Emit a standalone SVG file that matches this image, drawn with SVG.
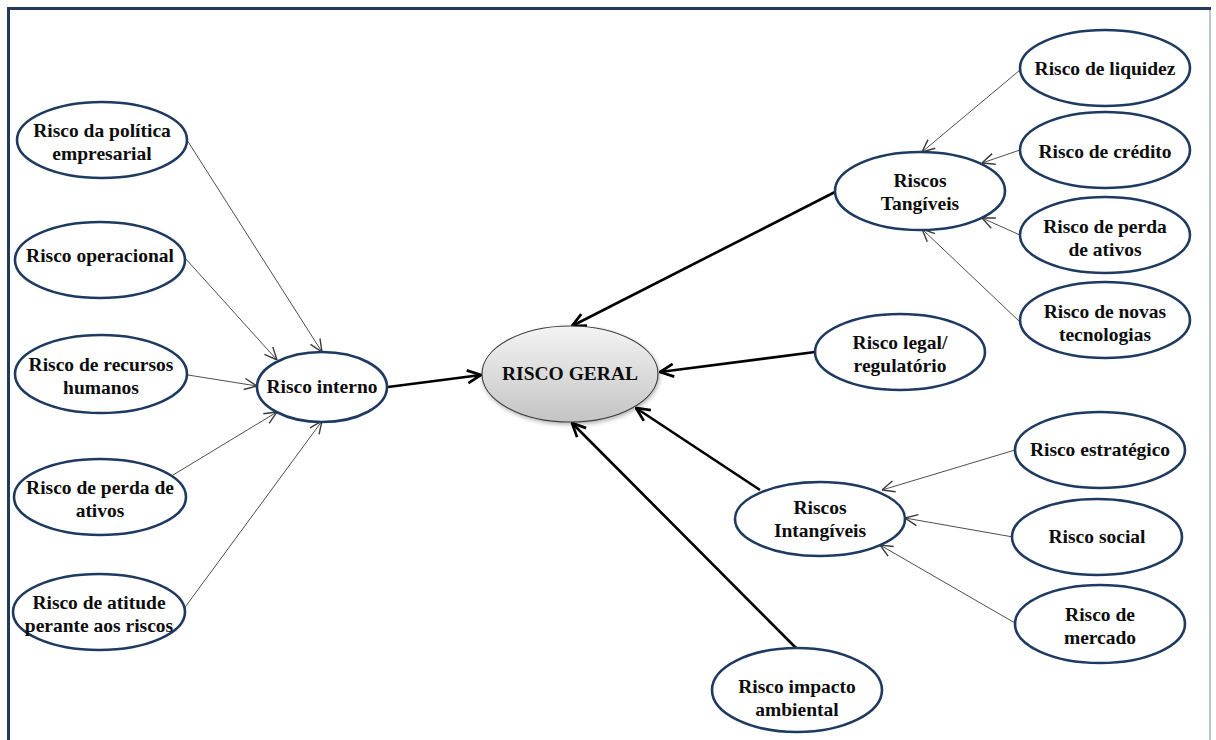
<svg xmlns="http://www.w3.org/2000/svg" width="1216" height="740" viewBox="0 0 1216 740">
  <defs>
    <style>
      .node { fill: #ffffff; stroke: #1f3a60; stroke-width: 2.6; }
      .lbl { font-family: 'Liberation Serif', 'Times New Roman', 'DejaVu Serif', serif; font-weight: 700; font-size: 19.5px; fill: #0d0d0d; text-anchor: middle; }
      .thin { stroke: #3a3a3a; stroke-width: 0.9; fill: none; marker-end: url(#openThin); }
      .thick { stroke: #000000; stroke-width: 2.6; fill: none; marker-end: url(#openThick); }
    </style>
    <marker id="openThin" markerUnits="userSpaceOnUse" markerWidth="14" markerHeight="14" viewBox="0 0 10 10" refX="10" refY="5" orient="auto">
      <path d="M1,1 L10,5 L1,9" fill="none" stroke="#3a3a3a" stroke-width="1"/>
    </marker>
    <marker id="openThick" markerUnits="userSpaceOnUse" markerWidth="16" markerHeight="16" viewBox="0 0 10 10" refX="9.5" refY="5" orient="auto">
      <path d="M1,1 L9.5,5 L1,9" fill="none" stroke="#000000" stroke-width="1.7"/>
    </marker>
    <linearGradient id="coreFill" x1="0" y1="0" x2="0" y2="1">
      <stop offset="0" stop-color="#f4f4f4"/>
      <stop offset="1" stop-color="#c4c4c4"/>
    </linearGradient>
    <filter id="soft" x="-20%" y="-20%" width="140%" height="150%">
      <feDropShadow dx="1" dy="2" stdDeviation="2" flood-color="#000000" flood-opacity="0.3"/>
    </filter>
  </defs>

  <rect width="1216" height="740" fill="#ffffff"/>

  <!-- frame -->
  <g id="frame">
    <line x1="1210" y1="8" x2="1210" y2="740" stroke="#8fa0b4" stroke-width="1.2"/>
    <line x1="8" y1="8.5" x2="1211" y2="8.5" stroke="#1f3a5a" stroke-width="3"/>
    <line x1="8.5" y1="7" x2="8.5" y2="740" stroke="#1f3a5a" stroke-width="3"/>
  </g>

  <!-- connectors -->
  <g id="connectors">
    <line class="thin" x1="187" y1="140" x2="322" y2="352"/>
    <line class="thin" x1="185" y1="258" x2="277" y2="360"/>
    <line class="thin" x1="188" y1="375" x2="257" y2="386"/>
    <line class="thin" x1="173" y1="475" x2="277" y2="412"/>
    <line class="thin" x1="183" y1="610" x2="322" y2="421"/>

    <line class="thin" x1="1020" y1="70" x2="922" y2="152"/>
    <line class="thin" x1="1020" y1="150" x2="982" y2="163"/>
    <line class="thin" x1="1020" y1="235" x2="982" y2="218"/>
    <line class="thin" x1="1020" y1="322" x2="922" y2="229"/>

    <line class="thin" x1="1015" y1="450" x2="882" y2="490"/>
    <line class="thin" x1="1013" y1="537" x2="905" y2="518"/>
    <line class="thin" x1="1015" y1="623" x2="880" y2="545"/>

    <line class="thick" x1="388" y1="387" x2="481" y2="375"/>
    <line class="thick" x1="835" y1="192" x2="572" y2="326"/>
    <line class="thick" x1="815" y1="352" x2="660" y2="372"/>
    <line class="thick" x1="760" y1="490" x2="636" y2="408"/>
    <line class="thick" x1="797" y1="649" x2="572" y2="423"/>
  </g>

  <g font-family="Liberation Serif, Times New Roman, serif" font-weight="bold">
  <!-- central node -->
  <g id="risco-geral">
    <ellipse cx="570" cy="374" rx="88" ry="48" fill="url(#coreFill)" stroke="#404040" stroke-width="1.2" filter="url(#soft)"/>
    <text class="lbl" x="570" y="380">RISCO GERAL</text>
  </g>

  <!-- internal branch -->
  <g id="risco-interno">
    <ellipse class="node" cx="322" cy="387" rx="65" ry="35"/>
    <text class="lbl" x="322" y="393">Risco interno</text>
  </g>
  <g id="politica-empresarial">
    <ellipse class="node" cx="102" cy="140" rx="85" ry="38"/>
    <text class="lbl" x="102" y="137">Risco da política</text>
    <text class="lbl" x="102" y="160">empresarial</text>
  </g>
  <g id="operacional">
    <ellipse class="node" cx="100" cy="260" rx="85" ry="38"/>
    <text class="lbl" x="100" y="262">Risco operacional</text>
  </g>
  <g id="recursos-humanos">
    <ellipse class="node" cx="101" cy="374" rx="86" ry="39"/>
    <text class="lbl" x="101" y="371">Risco de recursos</text>
    <text class="lbl" x="101" y="394">humanos</text>
  </g>
  <g id="perda-ativos-int">
    <ellipse class="node" cx="100" cy="497" rx="86" ry="38"/>
    <text class="lbl" x="100" y="494">Risco de perda de</text>
    <text class="lbl" x="100" y="517">ativos</text>
  </g>
  <g id="atitude-riscos">
    <ellipse class="node" cx="99" cy="612" rx="86" ry="38"/>
    <text class="lbl" x="99" y="609">Risco de atitude</text>
    <text class="lbl" x="99" y="632">perante aos riscos</text>
  </g>

  <!-- tangible branch -->
  <g id="riscos-tangiveis">
    <ellipse class="node" cx="920" cy="191" rx="85" ry="39"/>
    <text class="lbl" x="920" y="187">Riscos</text>
    <text class="lbl" x="920" y="210">Tangíveis</text>
  </g>
  <g id="liquidez">
    <ellipse class="node" cx="1105" cy="68" rx="85" ry="38"/>
    <text class="lbl" x="1105" y="75">Risco de liquidez</text>
  </g>
  <g id="credito">
    <ellipse class="node" cx="1105" cy="150" rx="85" ry="38"/>
    <text class="lbl" x="1105" y="158">Risco de crédito</text>
  </g>
  <g id="perda-ativos-tang">
    <ellipse class="node" cx="1105" cy="235" rx="85" ry="38"/>
    <text class="lbl" x="1105" y="233">Risco de perda</text>
    <text class="lbl" x="1105" y="256">de ativos</text>
  </g>
  <g id="novas-tecnologias">
    <ellipse class="node" cx="1105" cy="320" rx="85" ry="38"/>
    <text class="lbl" x="1105" y="318">Risco de novas</text>
    <text class="lbl" x="1105" y="341">tecnologias</text>
  </g>

  <!-- legal -->
  <g id="legal-regulatorio">
    <ellipse class="node" cx="900" cy="352" rx="85" ry="38"/>
    <text class="lbl" x="900" y="349">Risco legal/</text>
    <text class="lbl" x="900" y="372">regulatório</text>
  </g>

  <!-- intangible branch -->
  <g id="riscos-intangiveis">
    <ellipse class="node" cx="820" cy="519" rx="85" ry="37"/>
    <text class="lbl" x="820" y="514">Riscos</text>
    <text class="lbl" x="820" y="537">Intangíveis</text>
  </g>
  <g id="estrategico">
    <ellipse class="node" cx="1100" cy="450" rx="85" ry="38"/>
    <text class="lbl" x="1100" y="456">Risco estratégico</text>
  </g>
  <g id="social">
    <ellipse class="node" cx="1097" cy="537" rx="85" ry="38"/>
    <text class="lbl" x="1097" y="543">Risco social</text>
  </g>
  <g id="mercado">
    <ellipse class="node" cx="1100" cy="624" rx="85" ry="39"/>
    <text class="lbl" x="1100" y="621">Risco de</text>
    <text class="lbl" x="1100" y="644">mercado</text>
  </g>

  <!-- environmental -->
  <g id="impacto-ambiental">
    <ellipse class="node" cx="797" cy="690" rx="85" ry="42"/>
    <text class="lbl" x="797" y="693">Risco impacto</text>
    <text class="lbl" x="797" y="716">ambiental</text>
  </g>
  </g>
</svg>
